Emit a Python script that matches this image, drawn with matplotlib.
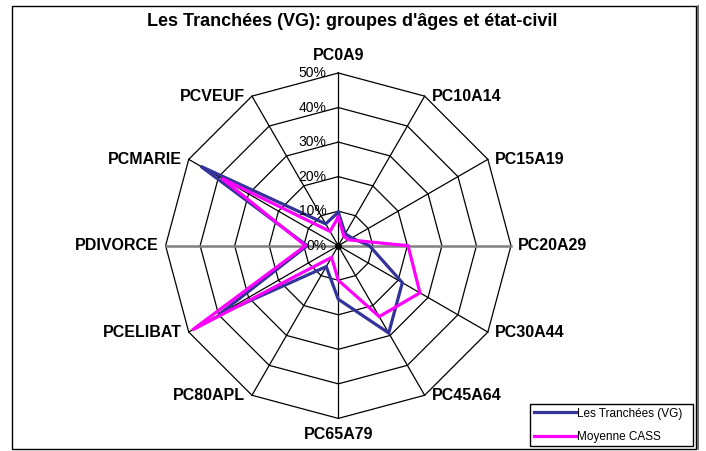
import numpy as np
import matplotlib
matplotlib.use('Agg')
import matplotlib.pyplot as plt
from matplotlib.patches import Rectangle
from matplotlib.lines import Line2D

plt.rcParams['font.family'] = ['Liberation Sans', 'DejaVu Sans']

categories = ['PC0A9', 'PC10A14', 'PC15A19', 'PC20A29', 'PC30A44', 'PC45A64',
              'PC65A79', 'PC80APL', 'PCELIBAT', 'PDIVORCE', 'PCMARIE', 'PCVEUF']
tranchees = [9.7, 4.0, 4.5, 9.0, 21.4, 29.2, 15.5, 7.0, 40.0, 9.0, 46.0, 7.3]
cass = [8.3, 3.2, 3.4, 20.2, 27.3, 23.7, 10.0, 3.9, 48.8, 9.5, 39.0, 4.8]
rings = [10, 20, 30, 40, 50]
tick_labels = ['0%', '10%', '20%', '30%', '40%', '50%']

W, H = 706, 451
fig = plt.figure(figsize=(W / 100, H / 100), dpi=100)

# polar axes placed so the centre and radius match the picture
cx, cy, rad = 338.3, 245.7, 172.7
ax = fig.add_axes([(cx - rad) / W, (H - cy - rad) / H, 2 * rad / W, 2 * rad / H],
                  projection='polar')
ax.set_theta_zero_location('N')
ax.set_theta_direction(-1)
ax.set_ylim(0, 0.5)
ax.grid(False)
ax.spines['polar'].set_visible(False)
ax.set_xticks([])
ax.set_yticks([])
ax.patch.set_visible(False)

n = len(categories)
theta = np.arange(n) * 2 * np.pi / n
theta_c = np.append(theta, theta[0])

# polygon grid
for r in rings:
    ax.plot(theta_c, [r / 100] * (n + 1), color='black', lw=0.9, zorder=1, clip_on=False)
for i, t in enumerate(theta):
    if i in (3, 9):
        ax.plot([t, t], [0, 0.5], color='#808080', lw=1.8, zorder=1, clip_on=False)
    else:
        ax.plot([t, t], [0, 0.5], color='black', lw=0.9, zorder=1, clip_on=False)
ax.plot([0], [0], 'o', color='black', ms=4, zorder=2)

# series
ax.plot(theta_c, np.append(tranchees, tranchees[0]) / 100, color='#333399', lw=2.3,
        zorder=3, clip_on=False, solid_joinstyle='miter')
ax.plot(theta_c, np.append(cass, cass[0]) / 100, color='#FF00FF', lw=2.3,
        zorder=4, clip_on=False, solid_joinstyle='miter')

# value labels
for i, lab in enumerate(tick_labels):
    ax.annotate(lab, xy=(0, i * 0.1), xytext=(-12, 0), textcoords='offset pixels',
                ha='right', va='center', fontsize=10, color='black', zorder=5)

# category labels
for t, lab in zip(theta, categories):
    deg = np.degrees(t)
    if np.isclose(deg, 0):
        off, ha = (0, 18), 'center'
    elif np.isclose(deg, 180):
        off, ha = (0, -16), 'center'
    elif deg < 180:
        off, ha = (7, 0), 'left'
    else:
        off, ha = (-7, 0), 'right'
    ax.annotate(lab, xy=(t, 0.5), xytext=off, textcoords='offset pixels',
                ha=ha, va='center', fontsize=11.5, fontweight='bold', annotation_clip=False)

fig.text(352 / W, 1 - 22 / H, "Les Tranchées (VG): groupes d'âges et état-civil",
         ha='center', va='center', fontsize=13, fontweight='bold')

# outer frame
fig.patches.append(Rectangle((12 / W, 2 / H), 684 / W, 443.5 / H, transform=fig.transFigure,
                             fill=False, edgecolor='black', lw=1.0))
fig.lines.append(Line2D([697.5 / W, 697.5 / W], [2 / H, 445.5 / H], transform=fig.transFigure,
                        color='#555555', lw=1.2))

# legend
handles = [Line2D([], [], color='#333399', lw=2.3), Line2D([], [], color='#FF00FF', lw=2.3)]
leg = fig.legend(handles, ['Les Tranchées (VG)', 'Moyenne CASS'],
                 loc='upper left', bbox_to_anchor=(530 / W, 1 - 446 / H, 163 / W, 42 / H),
                 mode='expand', fontsize=8.5, handlelength=3.6, handletextpad=0.1,
                 labelspacing=0.95, borderpad=0.3, borderaxespad=0, fancybox=False,
                 frameon=True, edgecolor='black', framealpha=1)
leg.get_frame().set_linewidth(1.0)

fig.savefig('out.png', dpi=100)
